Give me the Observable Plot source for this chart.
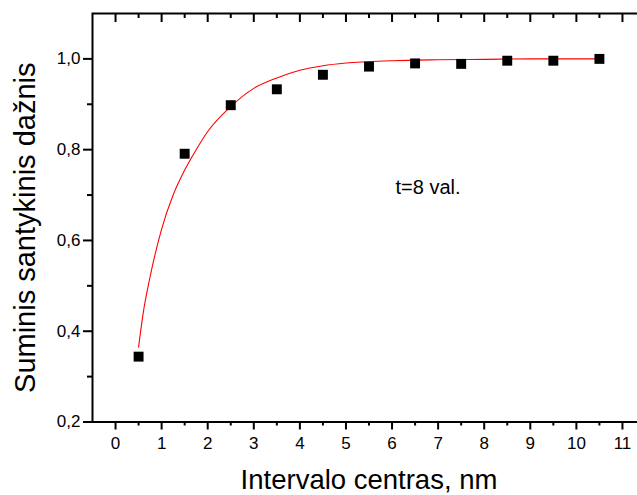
<!DOCTYPE html>
<html>
<head>
<meta charset="utf-8">
<script src="https://cdn.jsdelivr.net/npm/d3@7"></script>
<script src="https://cdn.jsdelivr.net/npm/@observablehq/plot@0.6"></script>
<style>
  html, body { margin: 0; padding: 0; background: #fff; }
  #chart { width: 637px; height: 495px; overflow: hidden; }
  #chart svg { max-width: none; }
</style>
</head>
<body>
<div id="chart"></div>
<script>
// Cumulative relative frequency by interval centre (nm)
const centers = [0.5, 1.5, 2.5, 3.5, 4.5, 5.5, 6.5, 7.5, 8.5, 9.5, 10.5];
const freq    = [0.344, 0.791, 0.898, 0.933, 0.965, 0.983, 0.990, 0.989, 0.996, 0.996, 1.000];

// Fitted curve, sampled
const fitX = [0.5, 0.6, 0.75, 1.0, 1.25, 1.5, 1.75, 2.0, 2.5, 3.0, 3.5, 4.0, 4.5, 5.0, 6.0, 7.0, 8.0, 9.0, 10.5];
const fitY = [0.365, 0.44, 0.52, 0.625, 0.70, 0.755, 0.80, 0.84, 0.895, 0.935, 0.958, 0.975, 0.985, 0.991, 0.996, 0.998, 0.999, 1.0, 1.0];

// Axis ticks
const xTicks = [0, 1, 2, 3, 4, 5, 6, 7, 8, 9, 10, 11];
const xMinor = [0.5, 1.5, 2.5, 3.5, 4.5, 5.5, 6.5, 7.5, 8.5, 9.5, 10.5];
const yTicks = [0.2, 0.4, 0.6, 0.8, 1.0];
const yMinor = [0.3, 0.5, 0.7, 0.9];

const xTitle = "Intervalo centras, nm";
const yTitle = "Suminis santykinis dažnis";
const note = "t=8 val.";

const comma = d => d.toFixed(1).replace(".", ",");
const blank = () => "";

const points = centers.map((x, i) => ({x, y: freq[i]}));
const fit = fitX.map((x, i) => ({x, y: fitY[i]}));

const font = "'Liberation Sans', Arial, sans-serif";

const chart = Plot.plot({
  width: 653,
  height: 495,
  marginLeft: 92,
  marginRight: 8,
  marginTop: 13,
  marginBottom: 73.5,
  style: {fontFamily: font, color: "black", background: "white", maxWidth: "none"},
  x: {domain: [-0.5, 11.5]},
  y: {domain: [0.2, 1.1]},
  marks: [
    // bottom axis
    Plot.axisX(xTicks, {anchor: "bottom", tickSize: 8, tickPadding: 7, fontSize: 17, strokeWidth: 2, label: null}),
    Plot.axisX(xMinor, {anchor: "bottom", tickSize: 4, strokeWidth: 2, tickFormat: blank, label: null}),
    // top axis, inward ticks
    Plot.axisX(xTicks, {anchor: "top", tickSize: -8, strokeWidth: 2, tickFormat: blank, label: null}),
    Plot.axisX(xMinor, {anchor: "top", tickSize: -4, strokeWidth: 2, tickFormat: blank, label: null}),
    // left axis
    Plot.axisY(yTicks, {anchor: "left", tickSize: 9, tickPadding: 3, fontSize: 17, strokeWidth: 2, tickFormat: comma, label: null}),
    Plot.axisY(yMinor, {anchor: "left", tickSize: 5, strokeWidth: 2, tickFormat: blank, label: null}),
    // right axis, inward ticks
    Plot.axisY(yTicks, {anchor: "right", tickSize: -9, strokeWidth: 2, tickFormat: blank, label: null}),
    Plot.axisY(yMinor, {anchor: "right", tickSize: -5, strokeWidth: 2, tickFormat: blank, label: null}),
    Plot.frame({stroke: "black", strokeWidth: 2}),
    // fitted curve
    Plot.line(fit, {x: "x", y: "y", stroke: "#ff0000", strokeWidth: 1.1, curve: "monotone-x"}),
    // measured points
    Plot.dot(points, {x: "x", y: "y", symbol: "square", r: 5.6, fill: "black", stroke: "none"}),
    // annotation
    Plot.text([note], {frameAnchor: "top-left", dx: 303, dy: 180, textAnchor: "start", lineAnchor: "bottom", fontSize: 20, fill: "black"}),
    // axis titles
    Plot.text([xTitle], {frameAnchor: "bottom", dx: 0, dy: 66.5, textAnchor: "middle", lineAnchor: "bottom", fontSize: 27.5, fill: "black"}),
    Plot.text([yTitle], {frameAnchor: "left", dx: -67, dy: 10, rotate: -90, textAnchor: "middle", lineAnchor: "middle", fontSize: 29, fill: "black"})
  ]
});

document.getElementById("chart").appendChild(chart);
</script>
</body>
</html>
